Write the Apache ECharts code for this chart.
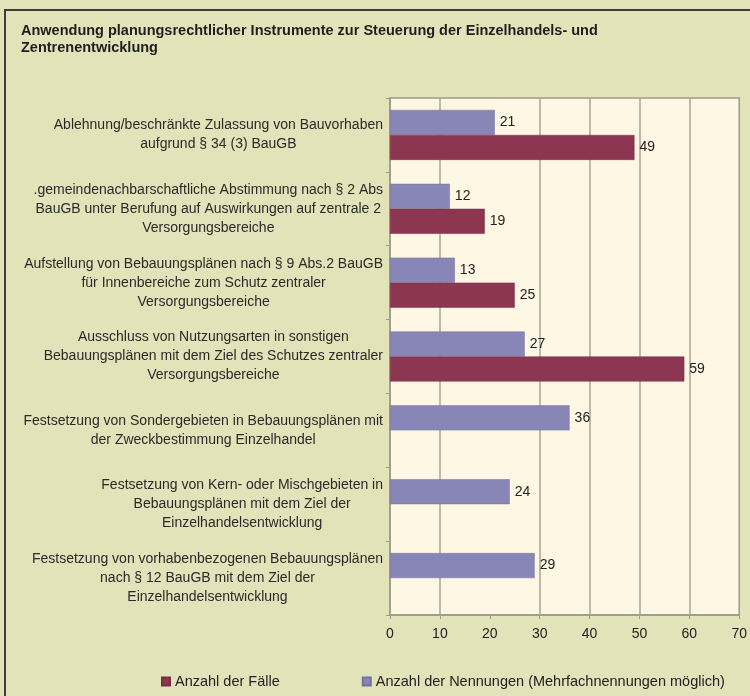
<!DOCTYPE html>
<html>
<head>
<meta charset="utf-8">
<script src="https://cdn.jsdelivr.net/npm/echarts@6/dist/echarts.min.js"></script>
<style>
html,body{margin:0;padding:0;background:#e2e3b8;}
#chart{width:750px;height:696px;}
</style>
</head>
<body>
<div id="chart"></div>
<script>
const titleText = 'Anwendung planungsrechtlicher Instrumente zur Steuerung der Einzelhandels- und\nZentrenentwicklung';
const categories = [
  'Ablehnung/beschränkte Zulassung von Bauvorhaben\naufgrund § 34 (3) BauGB',
  '.gemeindenachbarschaftliche Abstimmung nach § 2 Abs\nBauGB unter Berufung auf Auswirkungen auf zentrale 2\nVersorgungsbereiche',
  'Aufstellung von Bebauungsplänen nach § 9 Abs.2 BauGB\nfür Innenbereiche zum Schutz zentraler\nVersorgungsbereiche',
  'Ausschluss von Nutzungsarten in sonstigen\nBebauungsplänen mit dem Ziel des Schutzes zentraler\nVersorgungsbereiche',
  'Festsetzung von Sondergebieten in Bebauungsplänen mit\nder Zweckbestimmung Einzelhandel',
  'Festsetzung von Kern- oder Mischgebieten in\nBebauungsplänen mit dem Ziel der\nEinzelhandelsentwicklung',
  'Festsetzung von vorhabenbezogenen Bebauungsplänen\nnach § 12 BauGB mit dem Ziel der\nEinzelhandelsentwicklung'
];
const seriesNames = ['Anzahl der Fälle', 'Anzahl der Nennungen (Mehrfachnennungen möglich)'];
const faelle = [49, 19, 25, 59, null, null, null];
const nennungen = [21, 12, 13, 27, 36, 24, 29];
const xTicks = [0, 10, 20, 30, 40, 50, 60, 70];
const gridLineValues = [10, 30, 40, 50, 60];

const FONT = '"Liberation Sans", Arial, sans-serif';
const RED = '#8c3651';
const BLUE = '#8786b6';
const GRID = '#a9a690';
const AXIS = '#9c9b88';

const chart = echarts.init(document.getElementById('chart'), null, {renderer: 'canvas'});
chart.setOption({
  backgroundColor: '#e2e3b8',
  textStyle: {fontFamily: FONT},
  graphic: [{
    type: 'rect', silent: true, z: 100,
    shape: {x: 5, y: 10, width: 800, height: 800},
    style: {fill: 'none', stroke: '#3c3c3c', lineWidth: 2}
  }],
  title: {
    text: titleText,
    left: 21, top: 22, padding: 0,
    textStyle: {fontFamily: FONT, fontSize: 14.5, fontWeight: 'bold', color: '#1e1e1e', lineHeight: 17}
  },
  legend: {
    data: seriesNames,
    left: 161, top: 674, padding: 0,
    icon: 'rect', itemWidth: 8, itemHeight: 8, itemGap: 82,
    textStyle: {fontFamily: FONT, fontSize: 14.5, color: '#222'}
  },
  grid: {
    left: 390, right: 10, top: 98, bottom: 81,
    show: true, backgroundColor: '#fef7e4', borderColor: AXIS, borderWidth: 1.5
  },
  xAxis: {
    type: 'value', min: 0, max: 70, interval: 10,
    axisLine: {show: true, lineStyle: {color: AXIS, width: 1.5}},
    axisTick: {show: true, length: 4, lineStyle: {color: AXIS}},
    axisLabel: {
      margin: 12, fontSize: 14, color: '#222', fontFamily: FONT,
      formatter: v => xTicks.includes(v) ? String(v) : ''
    },
    splitLine: {show: false}
  },
  yAxis: {
    type: 'category', data: categories, inverse: true,
    axisLine: {show: true, lineStyle: {color: AXIS, width: 1.5}},
    axisTick: {show: true, length: 4, lineStyle: {color: AXIS}},
    axisLabel: {
      margin: 7, fontFamily: FONT, fontSize: 14, color: '#2a2a2a',
      formatter: v => v.split('\n').map(l => '{c|' + l + '}').join('\n'),
      rich: {c: {align: 'center', fontFamily: FONT, fontSize: 14, color: '#2a2a2a', lineHeight: 19}}
    }
  },
  series: [
    {
      name: seriesNames[1], type: 'bar', data: nennungen, barWidth: 25, barGap: '0%', z: 3,
      itemStyle: {color: BLUE, borderColor: '#74739f', borderWidth: 0.5},
      label: {show: true, position: 'right', distance: 5, fontFamily: FONT, fontSize: 14, color: '#222'},
      markLine: {
        silent: true, z: 1, symbol: 'none', animation: false,
        label: {show: false},
        lineStyle: {color: GRID, width: 1.5, type: 'solid'},
        data: gridLineValues.map(v => ({xAxis: v}))
      }
    },
    {
      name: seriesNames[0], type: 'bar', data: faelle, barWidth: 25, barGap: '0%', z: 3,
      itemStyle: {color: RED, borderColor: '#7a2c44', borderWidth: 0.5},
      label: {show: true, position: 'right', distance: 5, fontFamily: FONT, fontSize: 14, color: '#222'}
    }
  ]
});
</script>
</body>
</html>
